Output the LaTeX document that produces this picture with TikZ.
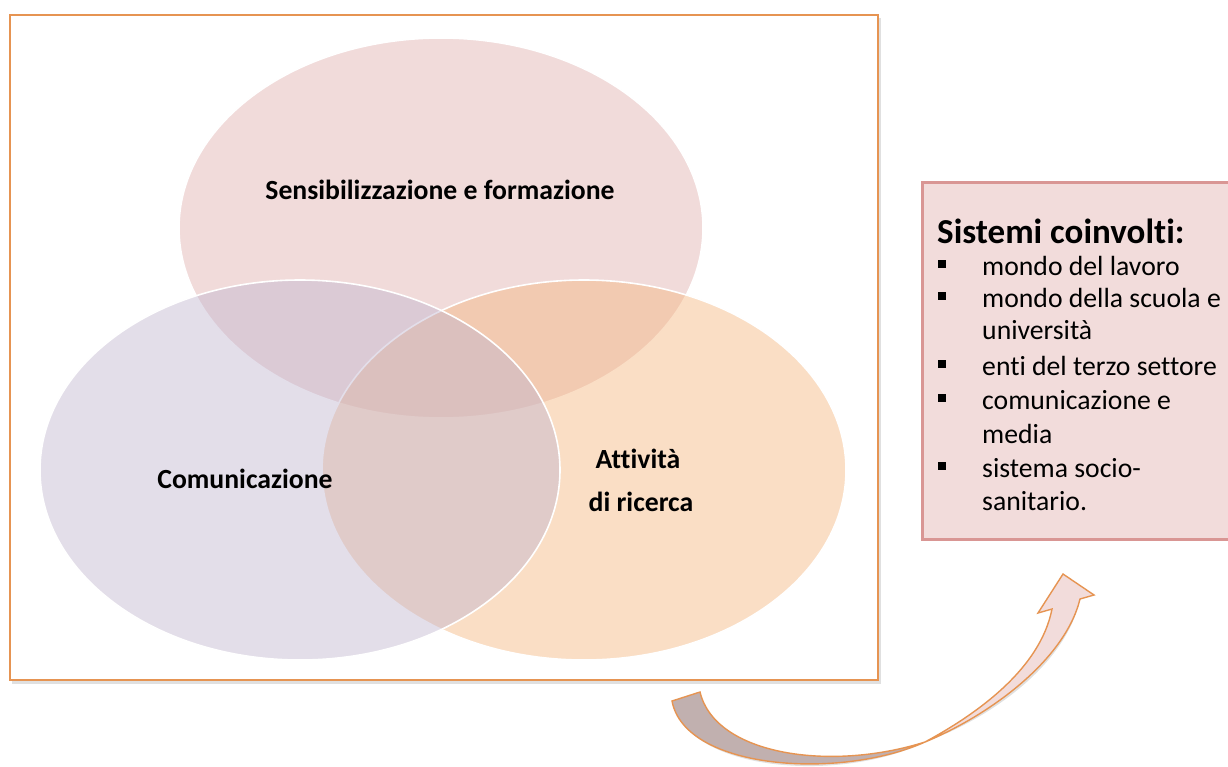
\documentclass[tikz,border=0pt]{standalone}
\usepackage{fontspec}
\setmainfont{Carlito}[Ligatures=NoCommon]
\usetikzlibrary{shapes.geometric}
\definecolor{frameor}{RGB}{230,148,82}
\definecolor{toppink}{RGB}{226,177,175}
\definecolor{rightpeach}{RGB}{244,182,128}
\definecolor{leftlav}{RGB}{193,182,208}
\definecolor{boxpink}{RGB}{242,220,219}
\definecolor{boxborder}{RGB}{217,150,148}
\definecolor{arrowgray}{RGB}{193,176,175}
\definecolor{arrowpink}{RGB}{242,220,219}
\begin{document}
\begin{tikzpicture}[x=1pt,y=-1pt,
  vennshape/.style={ellipse, draw=white, line width=1.6pt, fill opacity=0.45, inner sep=0},
  vlabel/.style={font=\fontsize{27.7}{33}\selectfont\bfseries, anchor=base, inner sep=0},
  itemtext/.style={font=\fontsize{27.7}{33}\selectfont, anchor=base west, inner sep=0},
  bul/.style={rectangle, fill=black, minimum size=8pt, inner sep=0},
  arrowline/.style={draw=frameor, line width=1.4pt, line join=miter}
]
\useasboundingbox (0,0) rectangle (1228,766);
\fill[white] (0,0) rectangle (1228,766);

% frame
\fill[black, opacity=0.12] (12,18) rectangle (881,684);
\node[draw=frameor, line width=2pt, fill=white, rectangle, minimum width=868pt, minimum height=665pt, anchor=north west, inner sep=0] (frame) at (9,14) {};

% venn ellipses
\node[vennshape, fill=toppink, minimum width=524pt, minimum height=380pt] (top) at (441,228) {};
\node[vennshape, fill=rightpeach, minimum width=524pt, minimum height=380pt] (right) at (584,470) {};
\node[vennshape, fill=leftlav, minimum width=520pt, minimum height=380pt] (left) at (300,470) {};

\node[vlabel] (ltop) at (440,199) {Sensibilizzazione e formazione};
\node[vlabel] (lleft) at (245,488) {Comunicazione};
\node[vlabel] (lright1) at (638,468) {Attività};
\node[vlabel] (lright2) at (641,511) {di ricerca};

% box
\fill[black, opacity=0.12] (923,184) rectangle (1240,541);
\node[draw=boxborder, line width=3pt, fill=boxpink, rectangle, minimum width=320pt, minimum height=357pt, anchor=north west, inner sep=0] (box) at (921,181) {};
\node[font=\fontsize{35}{40}\selectfont\bfseries, anchor=base west, inner sep=0] (title) at (937,243) {Sistemi coinvolti:};

\node[bul] (b1) at (942,264) {};
\node[itemtext] (t1) at (982,275) {mondo del lavoro};
\node[bul] (b2) at (942,296) {};
\node[itemtext] (t2) at (982,307) {mondo della scuola e};
\node[itemtext] (t3) at (982,339) {università};
\node[bul] (b3) at (942,364) {};
\node[itemtext] (t4) at (982,375) {enti del terzo settore};
\node[bul] (b4) at (942,398) {};
\node[itemtext] (t5) at (982,409) {comunicazione e};
\node[itemtext] (t6) at (982,443) {media};
\node[bul] (b5) at (942,466) {};
\node[itemtext] (t7) at (982,477) {sistema socio-};
\node[itemtext] (t8) at (982,510) {sanitario.};

% curved arrow
\coordinate (A) at (672,701);
\coordinate (B) at (700,692);
\coordinate (T) at (925,742);
\coordinate (R) at (1080,599);
\coordinate (RB) at (1094,595);
\coordinate (tip) at (1063,574);
\coordinate (LB) at (1038,613);
\coordinate (L) at (1052,609);

\fill[black, opacity=0.12, shift={(2,3)}]
  (A) .. controls (685,770) and (840,780) .. (T)
  .. controls (990,715) and (1065,660) .. (R) -- (RB) -- (tip) -- (LB) -- (L)
  .. controls (1040,670) and (975,715) .. (T)
  .. controls (830,772) and (715,755) .. (B) -- cycle;
\fill[arrowgray] (A) .. controls (685,770) and (840,780) .. (T)
  .. controls (830,772) and (715,755) .. (B) -- cycle;
\fill[arrowpink] (T) .. controls (990,715) and (1065,660) .. (R) -- (RB) -- (tip) -- (LB) -- (L)
  .. controls (1040,670) and (975,715) .. (T) -- cycle;
\draw[arrowline] (A) .. controls (685,770) and (840,780) .. (T)
  .. controls (990,715) and (1065,660) .. (R) -- (RB) -- (tip) -- (LB) -- (L)
  .. controls (1040,670) and (975,715) .. (T)
  .. controls (830,772) and (715,755) .. (B) -- cycle;
\end{tikzpicture}
\end{document}
